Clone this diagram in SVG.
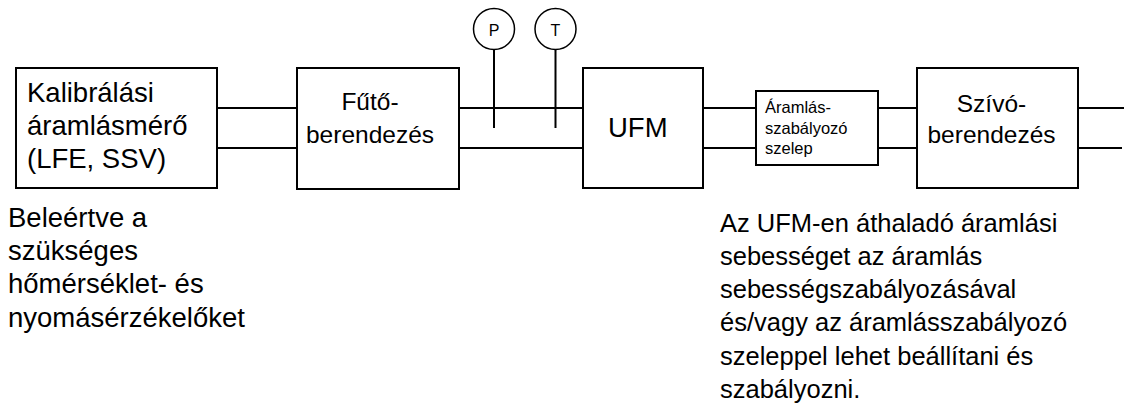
<svg xmlns="http://www.w3.org/2000/svg" width="1133" height="406" viewBox="0 0 1133 406">
<style>
.box{fill:#fff;stroke:#000;stroke-width:2}
.pipe{stroke:#000;stroke-width:2;fill:none}
.gauge{fill:#fff;stroke:#000;stroke-width:1.5}
text{font-family:"Liberation Sans",Arial,sans-serif;fill:#000}
.t27{font-size:27.5px}
.t24{font-size:24.5px}
.t25{font-size:25.5px}
.t16{font-size:16.5px}
.mid{text-anchor:middle}
</style>
<rect width="1133" height="406" fill="#fff"/>
<g id="connectors">
<path class="pipe" d="M217 108H297M217 148H297M459 108H583M459 148H583M703 108H756M703 148H756M878 108H917M878 148H917M1078 108H1124M1078 148H1122"/>
<path class="pipe" d="M494 49V128M555.5 49V128"/>
</g>
<g id="lfe">
<rect class="box" x="16" y="68" width="201" height="120"/>
<text class="t27" x="27" y="102">Kalibrálási</text>
<text class="t27" x="27" y="135">áramlásmérő</text>
<text class="t27" x="27" y="168">(LFE, SSV)</text>
</g>
<g id="heater">
<rect class="box" x="297" y="68" width="162" height="121"/>
<text class="t24 mid" x="370" y="110">Fűtő-</text>
<text class="t24 mid" x="370" y="143">berendezés</text>
</g>
<g id="gaugeP">
<circle class="gauge" cx="494" cy="29" r="20.5"/>
<text class="mid" x="494" y="36" font-size="16">P</text>
</g>
<g id="gaugeT">
<circle class="gauge" cx="555.5" cy="29" r="20.5"/>
<text class="mid" x="555.5" y="36" font-size="16">T</text>
</g>
<g id="ufm">
<rect class="box" x="583" y="68" width="120" height="120"/>
<text class="t27" x="608" y="137">UFM</text>
</g>
<g id="valve">
<rect class="box" x="756" y="91" width="122" height="74"/>
<text class="t16" x="765" y="113">Áramlás-</text>
<text class="t16" x="765" y="133.5">szabályozó</text>
<text class="t16" x="765" y="154">szelep</text>
</g>
<g id="suction">
<rect class="box" x="917" y="68" width="161" height="120"/>
<text class="t24 mid" x="991.5" y="112">Szívó-</text>
<text class="t24 mid" x="991.5" y="143">berendezés</text>
</g>
<g id="note-left">
<text class="t27" x="8" y="227">Beleértve a</text>
<text class="t27" x="8" y="260">szükséges</text>
<text class="t27" x="8" y="293">hőmérséklet- és</text>
<text class="t27" x="8" y="327">nyomásérzékelőket</text>
</g>
<g id="note-right">
<text class="t25" x="720" y="232">Az UFM-en áthaladó áramlási</text>
<text class="t25" x="720" y="265">sebességet az áramlás</text>
<text class="t25" x="720" y="298">sebességszabályozásával</text>
<text class="t25" x="720" y="331">és/vagy az áramlásszabályozó</text>
<text class="t25" x="720" y="365">szeleppel lehet beállítani és</text>
<text class="t25" x="720" y="398">szabályozni.</text>
</g>
</svg>
